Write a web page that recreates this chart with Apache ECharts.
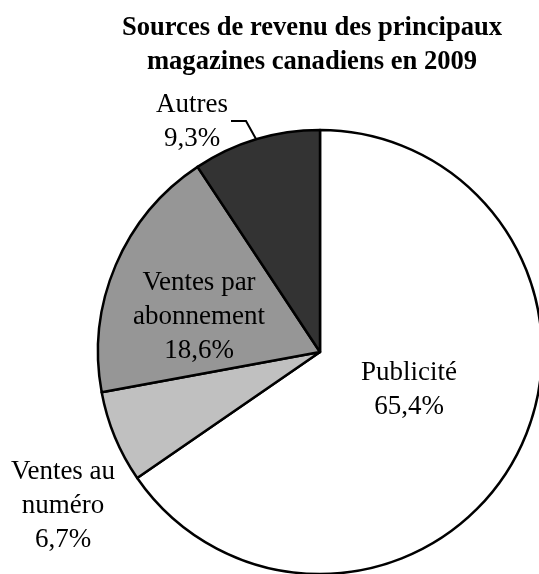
<!DOCTYPE html>
<html>
<head>
<meta charset="utf-8">
<script src="https://cdn.jsdelivr.net/npm/echarts@6/dist/echarts.min.js"></script>
<style>
  html, body { margin: 0; padding: 0; background: #fff; }
  #chart { width: 539px; height: 574px; }
</style>
</head>
<body>
<div id="chart"></div>
<script>
// Revenue sources of the main Canadian magazines, 2009 (% of total)
const categories = ['Publicité', 'Ventes au numéro', 'Ventes par abonnement', 'Autres'];
const shares = [65.4, 6.7, 18.6, 9.3];
const labelText = [['Publicité'], ['Ventes au', 'numéro'], ['Ventes par', 'abonnement'], ['Autres']];

// Presentation
const sliceColors = ['#ffffff', '#c0c0c0', '#969696', '#333333'];
const labelAnchors = [[409, 390], [63, 506], [199, 317], [192, 122]];
const autresLeader = [[231, 121], [246, 121], [256, 139]];

const fmtPct = v => v.toFixed(1).replace('.', ',') + '%';

const chart = echarts.init(document.getElementById('chart'), null, { renderer: 'canvas' });

chart.setOption({
  backgroundColor: '#ffffff',
  animation: false,
  title: {
    text: 'Sources de revenu des principaux\nmagazines canadiens en 2009',
    left: 307,
    top: 6,
    textAlign: 'center',
    textStyle: {
      fontFamily: 'Liberation Serif',
      fontWeight: 'bold',
      fontSize: 26.6,
      lineHeight: 34,
      color: '#000'
    }
  },
  series: [{
    type: 'pie',
    center: [320, 352],
    radius: 222,
    startAngle: 90,
    clockwise: true,
    avoidLabelOverlap: false,
    itemStyle: { borderColor: '#000', borderWidth: 2.5 },
    label: {
      show: true,
      position: 'outside',
      fontFamily: 'Liberation Serif',
      fontSize: 27,
      lineHeight: 34,
      color: '#000',
      align: 'center',
      formatter: p => labelText[p.dataIndex].concat(fmtPct(p.value)).join('\n')
    },
    labelLine: { show: false, lineStyle: { color: '#000', width: 2 } },
    labelLayout: function (params) {
      const a = labelAnchors[params.dataIndex];
      const out = { x: a[0], y: a[1], align: 'center', verticalAlign: 'middle' };
      if (params.dataIndex === 3) out.labelLinePoints = autresLeader;
      return out;
    },
    emphasis: { disabled: true },
    data: categories.map((name, i) => ({
      name: name,
      value: shares[i],
      itemStyle: { color: sliceColors[i] },
      labelLine: { show: i === 3 }
    }))
  }]
});
</script>
</body>
</html>
